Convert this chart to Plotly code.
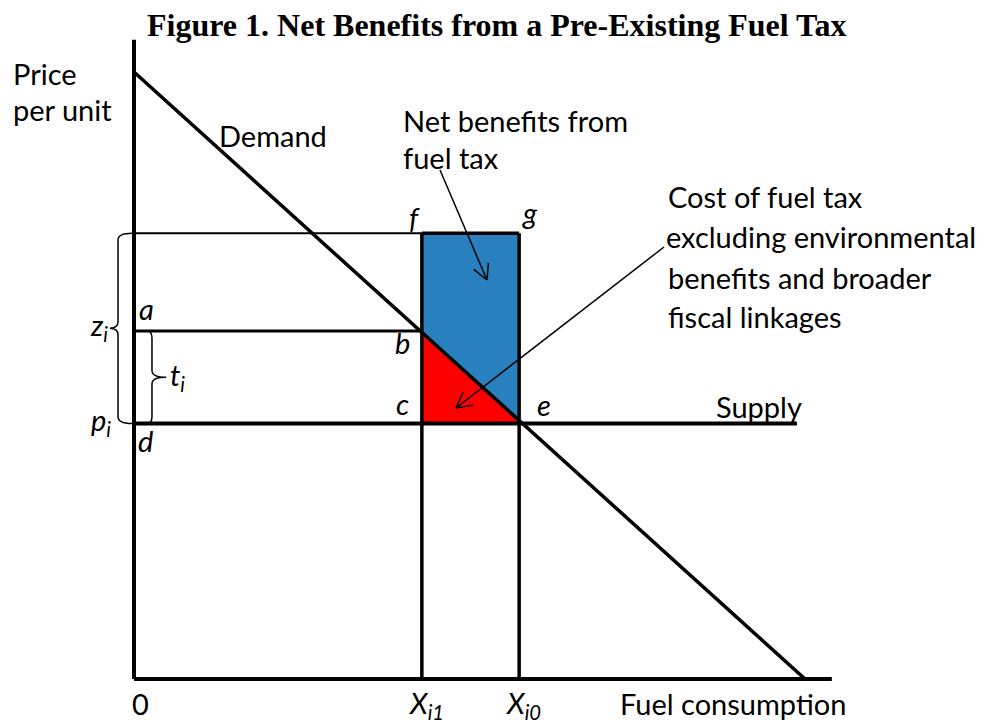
import math
import plotly.graph_objects as go

# ---------------- data (schematic units) ----------------
DEMAND_Q = [0.0, 10.0]          # demand curve endpoints (quantity)
DEMAND_P = [9.0, 0.0]           # demand curve endpoints (price)
P_I = 3.79                      # supply price p_i
A_PRICE = 5.16                  # price incl. tax (line a-b)
Z_I = 6.61                      # social cost z_i (line f-g)
X_I1 = 4.29                     # consumption with tax
X_I0 = 5.74                     # consumption without tax
SUPPLY_END = 9.88
X_AXIS_END = 10.4
Y_AXIS_END = 9.48

# layout of the schematic in window pixels
WIN_W, WIN_H = 988, 727
PAGE = 8                          # default body margin of the html page
W, H = WIN_W - PAGE, WIN_H - PAGE
OX, OY = 134, 679                 # origin (window pixels)
SX, SY = 67.1, 67.44              # pixels per unit

FONT = "Lato, 'Open Sans', sans-serif"
BLACK = "#000000"
BLUE = "#2980BF"
RED = "#FF0000"

fig = go.Figure()

# blue net-benefit rectangle
fig.add_trace(go.Scatter(
    x=[X_I1, X_I0, X_I0, X_I1, X_I1], y=[P_I, P_I, Z_I, Z_I, P_I],
    fill="toself", fillcolor=BLUE, mode="lines", line=dict(width=0),
    hoverinfo="skip", showlegend=False))
# red cost triangle
fig.add_trace(go.Scatter(
    x=[X_I1, X_I1, X_I0, X_I1], y=[A_PRICE, P_I, P_I, A_PRICE],
    fill="toself", fillcolor=RED, mode="lines", line=dict(width=0),
    hoverinfo="skip", showlegend=False))

def seg(x, y, w):
    fig.add_trace(go.Scatter(x=x, y=y, mode="lines",
                             line=dict(color=BLACK, width=w),
                             hoverinfo="skip", showlegend=False))

seg([0, 0], [0, Y_AXIS_END], 4)                 # price axis
seg([0, X_AXIS_END], [0, 0], 4)                 # quantity axis
seg(DEMAND_Q, DEMAND_P, 3.5)                    # demand
seg([0, SUPPLY_END], [P_I, P_I], 4)             # supply
seg([0, X_I1], [Z_I, Z_I], 2)                   # z_i level
seg([X_I1, X_I0], [Z_I, Z_I], 3.5)              # f-g
seg([0, X_I1], [A_PRICE, A_PRICE], 3)           # a-b
seg([X_I1, X_I1], [0, Z_I], 3.5)                # X_i1 vertical
seg([X_I0, X_I0], [0, Z_I], 3.5)                # X_i0 vertical

# ---- braces ----
def brace_path(x_end, x_bar, x_tip, y_top, y_bot, r=0.1):
    ym = (y_top + y_bot) / 2
    return (f"M {x_end},{y_top} Q {x_bar},{y_top} {x_bar},{y_top - r} "
            f"L {x_bar},{ym + r} Q {x_bar},{ym} {x_tip},{ym} "
            f"Q {x_bar},{ym} {x_bar},{ym - r} "
            f"L {x_bar},{y_bot + r} Q {x_bar},{y_bot} {x_end},{y_bot}")

shapes = [
    dict(type="path", xref="x", yref="y",
         path=brace_path(-0.03, -0.238, -0.36, Z_I, P_I),
         line=dict(color=BLACK, width=1.5)),
    dict(type="path", xref="x", yref="y",
         path=brace_path(0.19, 0.268, 0.48, A_PRICE, P_I),
         line=dict(color=BLACK, width=1.5)),
]

# ---- open-V arrows ----
def arrow(x0, y0, x1, y1, head=17, ang=28):
    dx, dy = (x1 - x0) * SX, (y1 - y0) * SY
    L = math.hypot(dx, dy)
    ux, uy = dx / L, dy / L
    out = [dict(type="line", xref="x", yref="y", x0=x0, y0=y0, x1=x1, y1=y1,
                line=dict(color=BLACK, width=1.5))]
    for s in (1, -1):
        a = math.radians(ang) * s
        hx = -(ux * math.cos(a) - uy * math.sin(a)) * head
        hy = -(ux * math.sin(a) + uy * math.cos(a)) * head
        out.append(dict(type="line", xref="x", yref="y", x0=x1, y0=y1,
                        x1=x1 + hx / SX, y1=y1 + hy / SY,
                        line=dict(color=BLACK, width=1.5)))
    return out

def px2d(px, py):
    return (px - OX) / SX, (OY - py) / SY

shapes += arrow(*(px2d(440, 170) + px2d(487, 280)))
shapes += arrow(*(px2d(664, 247) + px2d(456, 408)))

# ---- text ----
ann = []
def txt(text, px, py, size=29, anchor="left", italic=False, family=FONT):
    if italic:
        text = f"<i>{text}</i>"
    ann.append(dict(text=text, xref="paper", yref="paper",
                    x=(px - PAGE) / W, y=1 - (py - PAGE) / H,
                    xanchor=anchor, yanchor="middle",
                    showarrow=False, font=dict(family=family, size=size, color=BLACK)))

txt("<b>Figure 1. Net Benefits from a Pre-Existing Fuel Tax</b>", 497, 25,
    size=32, anchor="center", family="'Liberation Serif', 'Times New Roman', serif")
txt("Price", 11, 74)
txt("per unit", 11, 110)
txt("Demand", 217, 136)
txt("Net benefits from", 401, 120)
txt("fuel tax", 401, 157)
txt("Cost of fuel tax", 666, 197)
txt("excluding environmental", 664, 237)
txt("benefits and broader", 666, 277)
txt("fiscal linkages", 666, 316)
txt("Supply", 714, 406)
txt("0", 140, 703, anchor="center")
txt("X<sub>i1</sub>", 407, 704, italic=True)
txt("X<sub>i0</sub>", 504, 704, italic=True)
txt("Fuel consumption", 618, 703)

txt("f", 414, 217, anchor="center", italic=True)
txt("g", 530, 213, anchor="center", italic=True)
txt("a", 146, 308, anchor="center", italic=True)
txt("b", 402, 342, anchor="center", italic=True)
txt("c", 402, 403, anchor="center", italic=True)
txt("e", 544, 404, anchor="center", italic=True)
txt("d", 145, 440, anchor="center", italic=True)
txt("z<sub>i</sub>", 99, 326, anchor="center", italic=True)
txt("p<sub>i</sub>", 101, 422, anchor="center", italic=True)
txt("t<sub>i</sub>", 177, 376, anchor="center", italic=True)

fig.update_layout(
    width=W, height=H, margin=dict(l=0, r=0, t=0, b=0),
    paper_bgcolor="white", plot_bgcolor="white",
    xaxis=dict(range=[(PAGE - OX) / SX, (WIN_W - OX) / SX], visible=False, fixedrange=True),
    yaxis=dict(range=[(OY - WIN_H) / SY, (OY - PAGE) / SY], visible=False, fixedrange=True),
    shapes=shapes, annotations=ann, showlegend=False,
)

fig.write_html("out.html")
